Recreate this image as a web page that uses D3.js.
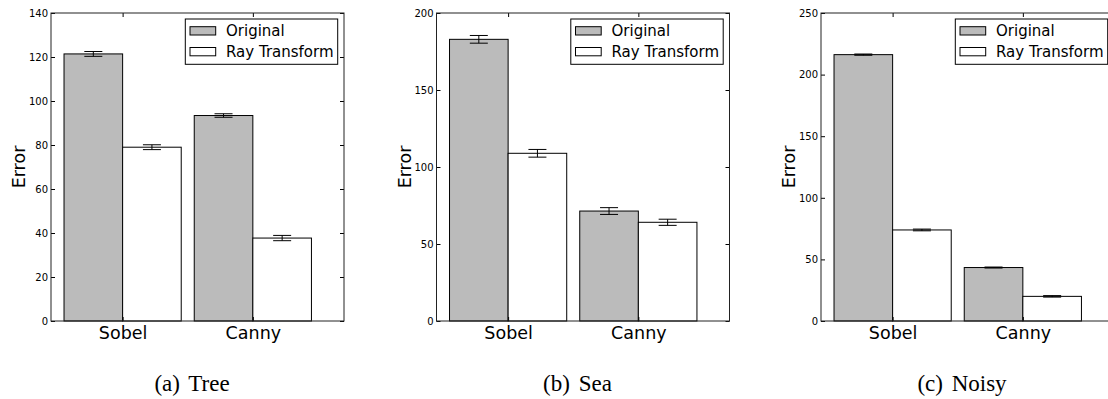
<!DOCTYPE html>
<html>
<head>
<meta charset="utf-8">
<script src="https://cdn.jsdelivr.net/npm/d3@7"></script>
<style>
  body { margin: 0; background: white; }
  svg { display: block; }
</style>
</head>
<body>
<div id="viz-container"></div>
<script>
let vizWidth = 1108;
let vizHeight = 399;

// data
let categories = ["Sobel", "Canny"];
let seriesNames = ["Original", "Ray Transform"];

let treeOriginal = [121.4, 93.4];
let treeOriginalErr = [1.1, 0.8];
let treeRay = [79.0, 37.7];
let treeRayErr = [1.1, 1.2];

let seaOriginal = [182.9, 71.4];
let seaOriginalErr = [2.5, 2.2];
let seaRay = [108.9, 64.1];
let seaRayErr = [2.5, 2.0];

let noisyOriginal = [216.2, 43.4];
let noisyOriginalErr = [0.5, 0.4];
let noisyRay = [73.9, 20.0];
let noisyRayErr = [0.7, 0.6];

let yMax = [140, 200, 250];
let yTicks = [
    [0, 20, 40, 60, 80, 100, 120, 140],
    [0, 50, 100, 150, 200],
    [0, 50, 100, 150, 200, 250]
];
let captions = ["(a) Tree", "(b) Sea", "(c) Noisy"];

let panels = [
    {orig: treeOriginal, origErr: treeOriginalErr, ray: treeRay, rayErr: treeRayErr},
    {orig: seaOriginal, origErr: seaOriginalErr, ray: seaRay, rayErr: seaRayErr},
    {orig: noisyOriginal, origErr: noisyOriginalErr, ray: noisyRay, rayErr: noisyRayErr}
];

let viz = d3.select("#viz-container")
                .append("svg")
                    .attr("id", "viz")
                    .attr("width", vizWidth)
                    .attr("height", vizHeight)
                    .style("background-color", "white")
;

let axLefts = [51, 436.5, 821];
let axTop = 13;
let axBottom = 321;
let axWidth = 293;
let barWidth = 0.45;
let grey = "#bbbbbb";
let font = "'DejaVu Sans', sans-serif";

panels.forEach(function(p, k){
    let left = axLefts[k];
    let g = viz.append("g").attr("transform", "translate(" + left + ",0)");

    let x = d3.scaleLinear().domain([0, 2.25]).range([0, axWidth]);
    let y = d3.scaleLinear().domain([0, yMax[k]]).range([axBottom, axTop]);

    let rows = categories.map(function(c, i){
        return [
            {cat: c, x0: i + 0.1, v: p.orig[i], e: p.origErr[i], fill: grey},
            {cat: c, x0: i + 0.1 + barWidth, v: p.ray[i], e: p.rayErr[i], fill: "white"}
        ];
    }).flat();

    // bars
    g.selectAll(".bar").data(rows).enter().append("rect")
        .attr("class", "bar")
        .attr("x", d => x(d.x0))
        .attr("y", d => y(d.v))
        .attr("width", x(barWidth) - x(0))
        .attr("height", d => axBottom - y(d.v))
        .attr("fill", d => d.fill)
        .attr("stroke", "black")
        .attr("stroke-width", 1)
    ;

    // error bars
    let eb = g.selectAll(".err").data(rows).enter().append("g").attr("class", "err")
        .attr("stroke", "black").attr("stroke-width", 1);
    let cx = d => x(d.x0 + barWidth / 2);
    eb.append("line")
        .attr("x1", cx).attr("x2", cx)
        .attr("y1", d => y(d.v - d.e)).attr("y2", d => y(d.v + d.e));
    eb.append("line")
        .attr("x1", d => cx(d) - 9).attr("x2", d => cx(d) + 9)
        .attr("y1", d => y(d.v - d.e)).attr("y2", d => y(d.v - d.e));
    eb.append("line")
        .attr("x1", d => cx(d) - 9).attr("x2", d => cx(d) + 9)
        .attr("y1", d => y(d.v + d.e)).attr("y2", d => y(d.v + d.e));

    // axes: ticks point inward like classic matplotlib
    let leftAxis = g.append("g")
        .call(d3.axisLeft(y).tickValues(yTicks[k]).tickSizeInner(-4).tickSizeOuter(0).tickPadding(3));
    leftAxis.selectAll("text").style("font-family", font).style("font-size", "10px").attr("fill", "black");

    g.append("g").attr("transform", "translate(" + axWidth + ",0)")
        .call(d3.axisRight(y).tickValues(yTicks[k]).tickSizeInner(-4).tickSizeOuter(0).tickFormat(""));

    let tickPos = categories.map((c, i) => i + 0.1 + barWidth);
    g.append("g").attr("transform", "translate(0," + axTop + ")")
        .call(d3.axisTop(x).tickValues(tickPos).tickSizeInner(-4).tickSizeOuter(0).tickFormat(""));

    let bottomAxis = g.append("g").attr("transform", "translate(0," + axBottom + ")")
        .call(d3.axisBottom(x).tickValues(tickPos).tickSizeInner(-4).tickSizeOuter(0).tickPadding(6)
              .tickFormat((d, i) => categories[i]));
    bottomAxis.selectAll("text").style("font-family", font).style("font-size", "17.5px").attr("fill", "black");

    g.selectAll(".domain").remove();
    g.selectAll(".tick line").attr("stroke", "black");

    // frame
    g.append("rect")
        .attr("x", 0).attr("y", axTop)
        .attr("width", axWidth).attr("height", axBottom - axTop)
        .attr("fill", "none").attr("stroke", "#222").attr("stroke-width", 1);

    // y label
    g.append("text")
        .text("Error")
        .attr("transform", "translate(-26," + ((axTop + axBottom) / 2) + ") rotate(-90)")
        .attr("text-anchor", "middle")
        .style("font-family", font)
        .style("font-size", "17.5px")
        .attr("fill", "black");

    // legend
    let lgW = 152.4, lgH = 45.3;
    let lg = g.append("g").attr("transform", "translate(" + (axWidth - 6.3 - lgW) + "," + (axTop + 6) + ")");
    lg.append("rect").attr("width", lgW).attr("height", lgH)
        .attr("fill", "white").attr("stroke", "black").attr("stroke-width", 1);
    let items = lg.selectAll(".item").data(seriesNames).enter().append("g")
        .attr("transform", (d, i) => "translate(4.7," + (11.9 + i * 20.8) + ")");
    items.append("rect")
        .attr("x", 0).attr("y", -4.2).attr("width", 25.7).attr("height", 8.3)
        .attr("fill", (d, i) => i === 0 ? grey : "white")
        .attr("stroke", "black").attr("stroke-width", 1);
    items.append("text")
        .text(d => d)
        .attr("x", 36).attr("y", 5.5)
        .style("font-family", font)
        .style("font-size", "15px")
        .attr("fill", "black");

    // caption
    viz.append("text")
        .text(captions[k])
        .attr("x", left + axWidth / 2 - 5.5)
        .attr("y", 391)
        .attr("text-anchor", "middle")
        .style("font-family", "'Liberation Serif', 'Times New Roman', serif")
        .style("font-size", "23px")
        .style("word-spacing", "3px")
        .attr("fill", "black");
});
</script>
</body>
</html>
